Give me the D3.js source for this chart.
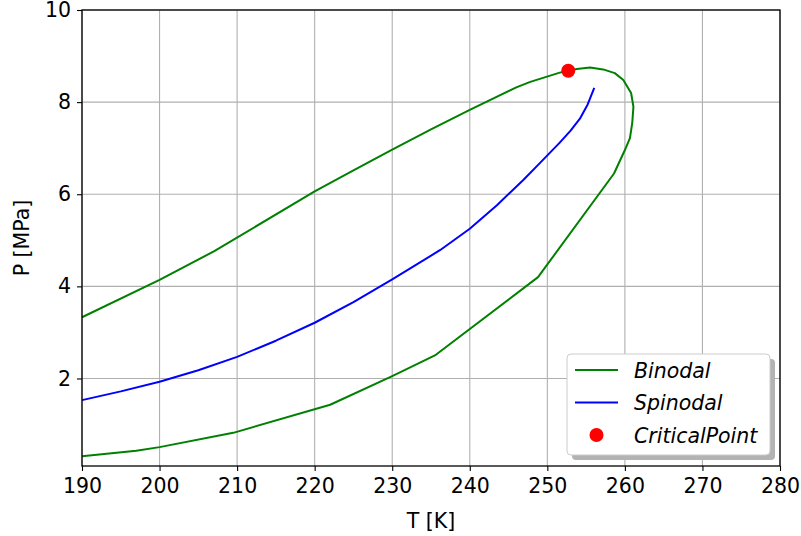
<!DOCTYPE html>
<html>
<head>
<meta charset="utf-8">
<script src="https://cdn.jsdelivr.net/npm/d3@7"></script>
<style>
  body { margin: 0; background: #fff; }
  svg { display: block; font-family: "DejaVu Sans", sans-serif; }
</style>
</head>
<body>
<div id="wrapper"></div>
<script>
// binodal envelope: lower branch -> right turn -> upper branch
const binodalT = [190, 197, 200, 209.5, 222, 230, 235.5, 248.8, 258.6, 260.0, 260.65, 260.95, 261.1, 260.8, 259.8, 258.7, 257.2, 255.5, 253.8, 251.6, 247.8, 246, 240, 235, 230, 225, 220, 207, 200, 190];
const binodalP = [0.31, 0.43, 0.51, 0.82, 1.43, 2.05, 2.5, 4.2, 6.45, 6.96, 7.22, 7.55, 7.9, 8.2, 8.48, 8.63, 8.71, 8.75, 8.72, 8.64, 8.44, 8.32, 7.83, 7.41, 6.97, 6.52, 6.06, 4.76, 4.14, 3.33];

const spinodalT = [190, 195, 200, 205, 210, 215, 220, 225, 230, 236.2, 240, 243.5, 246.9, 249, 251.6, 253, 254.2, 255.2, 256.05];
const spinodalP = [1.53, 1.72, 1.93, 2.18, 2.47, 2.82, 3.21, 3.66, 4.15, 4.79, 5.25, 5.76, 6.31, 6.67, 7.12, 7.38, 7.64, 7.95, 8.31];

const criticalT = [252.7];
const criticalP = [8.68];

const xTicks = [190, 200, 210, 220, 230, 240, 250, 260, 270, 280];
const yTicks = [2, 4, 6, 8, 10];

const seriesNames = ["Binodal", "Spinodal", "CriticalPoint"];

const dimension = {
    width: 801,
    height: 536,
    margin: { left: 82, right: 21, top: 10, bottom: 70 }
};

const svg = d3.select("#wrapper").append("svg")
    .attr("width", dimension.width)
    .attr("height", dimension.height);

const x = d3.scaleLinear()
    .domain([190, 280])
    .range([dimension.margin.left, dimension.width - dimension.margin.right]);
const y = d3.scaleLinear()
    .domain([0.1, 10])
    .range([dimension.height - dimension.margin.bottom, dimension.margin.top]);

const x0 = x.range()[0], x1 = x.range()[1];
const y0 = y.range()[0], y1 = y.range()[1];

// grid
svg.append("g").selectAll("line").data(xTicks).join("line")
    .attr("x1", d => x(d)).attr("x2", d => x(d))
    .attr("y1", y0).attr("y2", y1)
    .attr("stroke", "#b0b0b0").attr("stroke-width", 1.1);
svg.append("g").selectAll("line").data(yTicks).join("line")
    .attr("x1", x0).attr("x2", x1)
    .attr("y1", d => y(d)).attr("y2", d => y(d))
    .attr("stroke", "#b0b0b0").attr("stroke-width", 1.1);

// series
const pts = (ts, ps) => ts.map((t, i) => [t, ps[i]]);
const line = d3.line().x(d => x(d[0])).y(d => y(d[1]));

svg.append("path")
    .attr("d", line(pts(binodalT, binodalP)))
    .attr("fill", "none").attr("stroke", "green").attr("stroke-width", 2)
    .attr("stroke-linejoin", "round");
svg.append("path")
    .attr("d", line(pts(spinodalT, spinodalP)))
    .attr("fill", "none").attr("stroke", "blue").attr("stroke-width", 2)
    .attr("stroke-linejoin", "round");
svg.append("g").selectAll("circle").data(pts(criticalT, criticalP)).join("circle")
    .attr("cx", d => x(d[0])).attr("cy", d => y(d[1]))
    .attr("r", 7).attr("fill", "red");

// axes
const xAxis = d3.axisBottom(x).tickValues(xTicks).tickSize(5).tickPadding(7).tickFormat(d3.format("d"));
const yAxis = d3.axisLeft(y).tickValues(yTicks).tickSize(5).tickPadding(6).tickFormat(d3.format("d"));

const gx = svg.append("g").attr("transform", `translate(0,${y0})`).call(xAxis);
const gy = svg.append("g").attr("transform", `translate(${x0},0)`).call(yAxis);
[gx, gy].forEach(g => {
    g.select(".domain").remove();
    g.selectAll("line").attr("stroke", "#000").attr("stroke-width", 1.1);
    g.selectAll("text").attr("fill", "#000").style("font-size", "20.5px")
        .style("font-family", "DejaVu Sans, sans-serif");
});

// frame
svg.append("rect")
    .attr("x", x0).attr("y", y1)
    .attr("width", x1 - x0).attr("height", y0 - y1)
    .attr("fill", "none").attr("stroke", "#000").attr("stroke-width", 1.3);

// axis labels
svg.append("text")
    .attr("x", (x0 + x1) / 2).attr("y", 528)
    .attr("text-anchor", "middle")
    .style("font-size", "20.5px")
    .text("T [K]");
svg.append("text")
    .attr("transform", `translate(29,${(y0 + y1) / 2}) rotate(-90)`)
    .attr("text-anchor", "middle")
    .style("font-size", "20.5px")
    .text("P [MPa]");

// legend
const lg = svg.append("g").attr("transform", "translate(567,354)");
const lw = 203, lh = 101;
lg.append("rect").attr("x", 5).attr("y", 5).attr("width", lw).attr("height", lh)
    .attr("rx", 4).attr("fill", "#b3b3b3");
lg.append("rect").attr("width", lw).attr("height", lh)
    .attr("rx", 4).attr("fill", "#fff").attr("stroke", "#cccccc").attr("stroke-width", 1);

const colors = ["green", "blue", "red"];
seriesNames.forEach((name, i) => {
    const ry = 16 + i * 32.5;
    if (i < 2) {
        lg.append("line").attr("x1", 8).attr("x2", 51).attr("y1", ry).attr("y2", ry)
            .attr("stroke", colors[i]).attr("stroke-width", 2);
    } else {
        lg.append("circle").attr("cx", 29.5).attr("cy", ry).attr("r", 7).attr("fill", colors[i]);
    }
    lg.append("text").attr("x", 67).attr("y", ry + 7.5)
        .style("font-size", "20.5px").style("font-style", "italic")
        .text(name);
});
</script>
</body>
</html>
